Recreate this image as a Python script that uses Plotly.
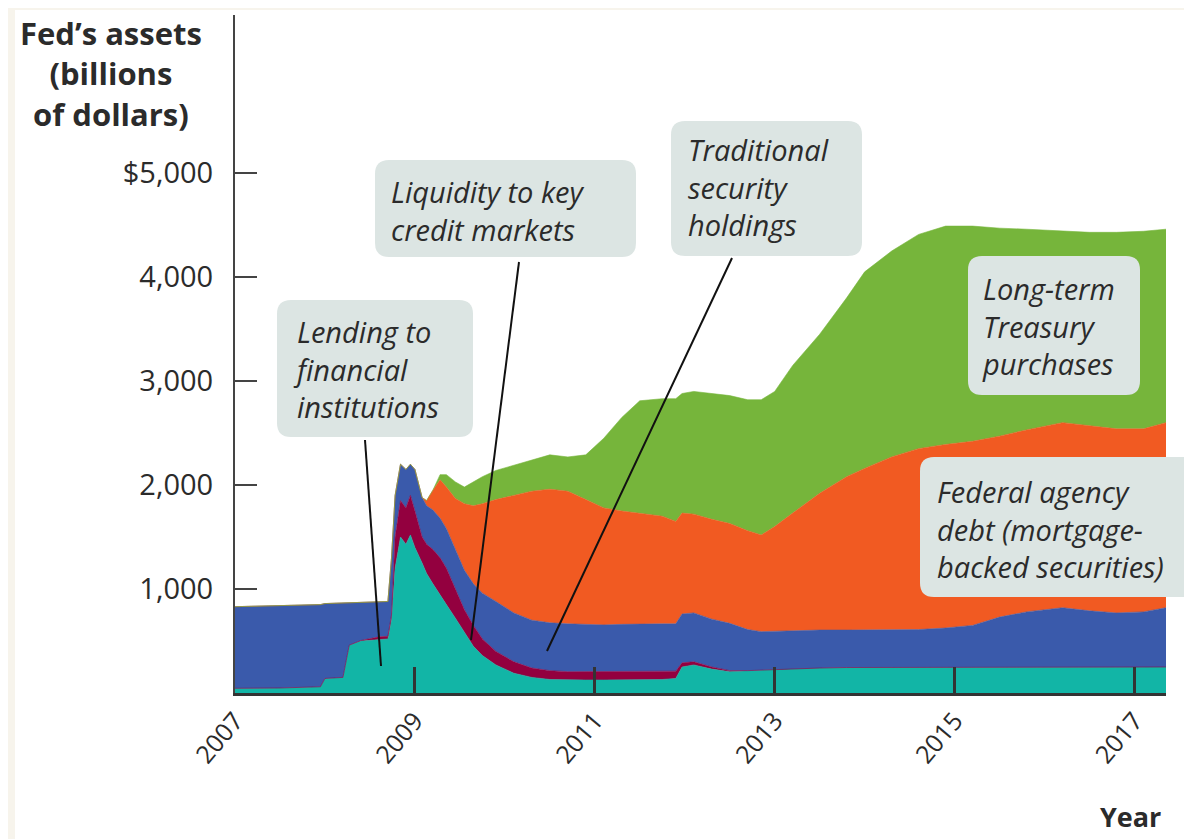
import plotly.graph_objects as go

# 時点（小数の年）
dates = [2007.00, 2007.50, 2007.95, 2008.00, 2008.20, 2008.27, 2008.40, 2008.60, 2008.70,
         2008.74, 2008.78, 2008.84, 2008.90, 2008.95, 2009.00, 2009.08, 2009.13, 2009.20,
         2009.28, 2009.35, 2009.45, 2009.55, 2009.65, 2009.75, 2009.90, 2010.10, 2010.30,
         2010.50, 2010.70, 2010.90, 2011.10, 2011.30, 2011.50, 2011.75, 2011.90, 2011.97,
         2012.10, 2012.30, 2012.50, 2012.70, 2012.85, 2013.00, 2013.20, 2013.50, 2013.80,
         2014.00, 2014.30, 2014.60, 2014.90, 2015.20, 2015.50, 2015.80, 2016.20, 2016.50,
         2016.80, 2017.10, 2017.35]

# 各資産の残高（10億ドル）
lending = [45, 48, 60, 140, 150, 460, 500, 510, 520,
           700, 1200, 1500, 1430, 1520, 1400, 1250, 1150, 1050,
           950, 850, 720, 580, 450, 360, 270, 190, 150,
           130, 125, 125, 125, 125, 130, 130, 140, 250,
           270, 230, 205, 215, 220, 225, 235, 240, 245,
           245, 245, 245, 250, 250, 250, 250, 250, 250,
           250, 250, 250]
liquidity = [0, 0, 0, 0, 0, 0, 5, 30, 25,
             50, 300, 350, 350, 380, 350, 250, 280, 330,
             350, 350, 280, 220, 200, 160, 130, 110, 90,
             85, 80, 80, 80, 80, 75, 75, 70, 40,
             30, 20, 10, 0, 0, 0, 0, 0, 0,
             0, 0, 0, 0, 0, 0, 0, 0, 0,
             0, 0, 0]
traditional = [785, 792, 790, 720, 715, 410, 370, 340, 335,
               550, 400, 350, 370, 300, 400, 380, 370, 380,
               380, 380, 380, 380, 400, 440, 480, 470, 460,
               460, 460, 455, 450, 455, 460, 460, 455, 470,
               470, 460, 455, 395, 370, 370, 365, 365, 360,
               360, 360, 365, 375, 400, 480, 530, 570, 540,
               520, 530, 570]
agency_debt = [0, 0, 0, 0, 0, 0, 0, 0, 0,
               0, 0, 0, 0, 0, 0, 0, 50, 190,
               370, 400, 490, 640, 750, 860, 980, 1130, 1240,
               1285, 1275, 1200, 1125, 1090, 1065, 1035, 985, 970,
               950, 960, 960, 950, 930, 1005, 1130, 1315, 1475,
               1555, 1665, 1740, 1765, 1770, 1740, 1750, 1780, 1780,
               1770, 1760, 1780]
treasury = [0, 0, 0, 0, 0, 0, 0, 0, 0,
            0, 0, 0, 0, 0, 0, 0, 0, 0,
            50, 120, 160, 160, 230, 260, 280, 290, 300,
            330, 330, 430, 670, 900, 1080, 1130, 1180, 1150,
            1180, 1210, 1230, 1260, 1300, 1300, 1420, 1530, 1720,
            1890, 1980, 2060, 2100, 2070, 2000, 1930, 1840, 1860,
            1890, 1900, 1860]

year_ticks = [2007, 2009, 2011, 2013, 2015, 2017]
asset_ticks = [1000, 2000, 3000, 4000, 5000]
asset_tick_labels = ["1,000", "2,000", "3,000", "4,000", "$5,000"]

# レイアウト（画面ピクセル、ページ余白 8px を差し引く）
OFF = 8
W, H = 1192 - OFF, 839 - OFF
L, R, T, B = 235, 1166, 15, 693   # プロット領域（画面座標）
FONT = "Open Sans"
TEXT = "#2b2b2b"
BOX = "#dce5e3"
FRAME = "#f7f4ec"


def px(x):
    return (x - L) / (R - L)


def py(y):
    return (B - y) / (B - T)


def band(x0, y0, x1, y1):
    return dict(type="rect", xref="paper", yref="paper",
                x0=px(x0), y0=py(y1), x1=px(x1), y1=py(y0),
                fillcolor=FRAME, line=dict(width=0), layer="below")


def rounded_box(x0, y0, x1, y1, r=14):
    rx = r / (R - L)
    ry = r / (B - T)
    a, b, c, d = px(x0), py(y1), px(x1), py(y0)
    path = (f"M {a+rx},{b} L {c-rx},{b} Q {c},{b} {c},{b+ry} "
            f"L {c},{d-ry} Q {c},{d} {c-rx},{d} L {a+rx},{d} "
            f"Q {a},{d} {a},{d-ry} L {a},{b+ry} Q {a},{b} {a+rx},{b} Z")
    return dict(type="path", path=path, xref="paper", yref="paper",
                fillcolor=BOX, line=dict(width=0), layer="above")


def pointer(x0, y0, x1, y1):
    return dict(type="line", xref="paper", yref="paper",
                x0=px(x0), y0=py(y0), x1=px(x1), y1=py(y1),
                line=dict(color="#111111", width=2), layer="above")


layers = [
    ("Lending to financial institutions", lending, "#12b5a6"),
    ("Liquidity to key credit markets", liquidity, "#93003f"),
    ("Traditional security holdings", traditional, "#3a5aab"),
    ("Federal agency debt", agency_debt, "#f15a22"),
    ("Long-term Treasury purchases", treasury, "#76b53b"),
]

fig = go.Figure()
for name, values, color in layers:
    fig.add_trace(go.Scatter(
        x=dates, y=values, name=name, mode="lines",
        stackgroup="assets", fillcolor=color,
        line=dict(width=0.6, color=color),
        hoverinfo="skip",
    ))

shapes = [
    band(8, 8, 1192, 10),
    band(8, 8, 15, 839),
    rounded_box(277, 300, 473, 437),
    rounded_box(375, 160, 636, 257),
    rounded_box(671, 121, 862, 256),
    rounded_box(968, 256, 1140, 395),
    rounded_box(920, 457, 1210, 597),
    pointer(365, 440, 381, 666),
    pointer(519, 262, 471, 640),
    pointer(732, 258, 547, 651),
]

labels = [
    (291, 369, "Lending to<br>financial<br>institutions"),
    (389, 210, "Liquidity to key<br>credit markets"),
    (686, 187, "Traditional<br>security<br>holdings"),
    (980, 326, "Long-term<br>Treasury<br>purchases"),
    (935, 529, "Federal agency<br>debt (mortgage-<br>backed securities)"),
]
annotations = []
for x, y, txt in labels:
    annotations.append(dict(
        x=px(x), y=py(y), xref="paper", yref="paper", text=txt,
        xanchor="left", yanchor="middle", align="left", showarrow=False,
        font=dict(family=FONT, size=29, color=TEXT, style="italic"),
    ))

annotations.append(dict(
    x=px(111), y=py(10), xref="paper", yref="paper",
    text="<b>Fed’s assets<br>(billions<br>of dollars)</b>",
    xanchor="center", yanchor="top", align="center", showarrow=False,
    font=dict(family=FONT, size=31, color=TEXT),
))
annotations.append(dict(
    x=px(1163), y=py(817), xref="paper", yref="paper", text="<b>Year</b>",
    xanchor="right", yanchor="middle", showarrow=False,
    font=dict(family=FONT, size=27, color=TEXT),
))

fig.update_layout(
    width=W, height=H, autosize=False,
    margin=dict(l=L - OFF, r=1192 - R, t=T - OFF, b=839 - B, pad=0),
    paper_bgcolor="white", plot_bgcolor="white",
    showlegend=False,
    shapes=shapes, annotations=annotations,
    font=dict(family=FONT, color=TEXT),
)
fig.update_xaxes(
    range=[2007, 2017.35], tickvals=year_ticks,
    ticktext=[str(y) for y in year_ticks], tickangle=-50,
    showgrid=False, zeroline=False,
    showline=True, linecolor="#333333", linewidth=3,
    ticks="inside", ticklen=26, tickwidth=2.5, tickcolor="#333333",
    tickfont=dict(family=FONT, size=25, color=TEXT),
)
fig.update_yaxes(
    range=[0, 6520], tickvals=asset_ticks, ticktext=asset_tick_labels,
    showgrid=False, zeroline=False,
    showline=True, linecolor="#444444", linewidth=2,
    ticks="inside", ticklen=22, tickwidth=2, tickcolor="#444444",
    ticklabelstandoff=14,
    tickfont=dict(family=FONT, size=29, color=TEXT),
)

fig.write_html("out.html")
